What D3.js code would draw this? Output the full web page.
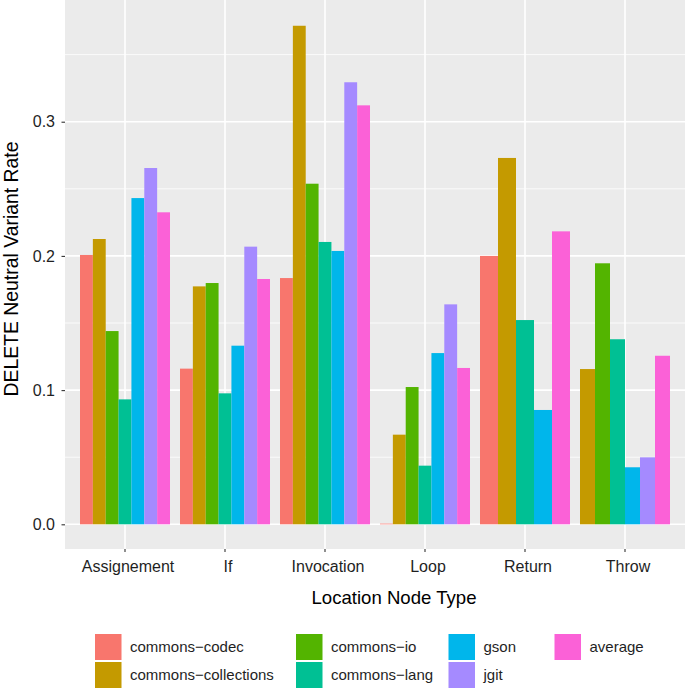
<!DOCTYPE html>
<html>
<head>
<meta charset="utf-8">
<script src="https://cdn.jsdelivr.net/npm/d3@7"></script>
<style>
  html, body { margin: 0; padding: 0; background: #ffffff; }
  svg { display: block; font-family: "Liberation Sans", Arial, Helvetica, sans-serif; }
</style>
</head>
<body>
<svg id="chart" width="685" height="691"></svg>
<script>
// ---- data ----
const categories = ["Assignement", "If", "Invocation", "Loop", "Return", "Throw"];
const seriesNames = ["commons-codec", "commons-collections", "commons-io", "commons-lang", "gson", "jgit", "average"];
const seriesColors = ["#F8766D", "#C49A00", "#53B400", "#00C094", "#00B6EB", "#A58AFF", "#FB61D7"];
const commonsCodec       = [0.2007, 0.1160, 0.1835, 0.0005, 0.2000, null];
const commonsCollections = [0.2126, 0.1773, 0.3715, 0.0668, 0.2730, 0.1157];
const commonsIo          = [0.1440, 0.1798, 0.2538, 0.1023, null,   0.1945];
const commonsLang        = [0.0931, 0.0976, 0.2104, 0.0437, 0.1522, 0.1379];
const gson               = [0.2431, 0.1331, 0.2037, 0.1276, 0.0852, 0.0425];
const jgit               = [0.2655, 0.2069, 0.3294, 0.1639, null,   0.0499];
const average            = [0.2325, 0.1828, 0.3122, 0.1165, 0.2183, 0.1256];
const yTicks = [0.0, 0.1, 0.2, 0.3];
const yMinorTicks = [0.05, 0.15, 0.25, 0.35];
const xTitle = "Location Node Type";
const yTitle = "DELETE Neutral Variant Rate";

const seriesValues = [commonsCodec, commonsCollections, commonsIo, commonsLang, gson, jgit, average];

// ---- layout ----
const svg = d3.select("#chart");
const panel = { left: 65, right: 685, top: 0, bottom: 549 };

const x = d3.scaleBand()
  .domain(categories)
  .range([panel.left, panel.right])
  .paddingInner(0.1)
  .paddingOuter(0.15);

const y = d3.scaleLinear()
  .domain([-0.0184, 0.3907])
  .range([panel.bottom, panel.top]);

const color = d3.scaleOrdinal().domain(seriesNames).range(seriesColors);

// panel background
svg.append("rect")
  .attr("x", panel.left).attr("y", panel.top)
  .attr("width", panel.right - panel.left)
  .attr("height", panel.bottom - panel.top)
  .attr("fill", "#EBEBEB");

// grid lines
const grid = svg.append("g");
grid.selectAll("line.minor")
  .data(yMinorTicks.filter(v => y(v) >= panel.top && y(v) <= panel.bottom))
  .join("line")
  .attr("x1", panel.left).attr("x2", panel.right)
  .attr("y1", d => y(d)).attr("y2", d => y(d))
  .attr("stroke", "#ffffff").attr("stroke-width", 0.8);
grid.selectAll("line.majorY")
  .data(yTicks)
  .join("line")
  .attr("x1", panel.left).attr("x2", panel.right)
  .attr("y1", d => y(d)).attr("y2", d => y(d))
  .attr("stroke", "#ffffff").attr("stroke-width", 1.6);
grid.selectAll("line.majorX")
  .data(categories)
  .join("line")
  .attr("x1", d => x(d) + x.bandwidth() / 2).attr("x2", d => x(d) + x.bandwidth() / 2)
  .attr("y1", panel.top).attr("y2", panel.bottom)
  .attr("stroke", "#ffffff").attr("stroke-width", 1.6);

// bars (dodged, missing series drop out of a group)
const barData = [];
categories.forEach((cat, ci) => {
  const present = seriesNames
    .map((s, si) => ({ series: s, value: seriesValues[si][ci] }))
    .filter(d => d.value !== null);
  const sub = d3.scaleBand()
    .domain(present.map(d => d.series))
    .range([x(cat), x(cat) + x.bandwidth()]);
  present.forEach(d => {
    barData.push({ cat, series: d.series, value: d.value, x: sub(d.series), w: sub.bandwidth() });
  });
});

svg.append("g").selectAll("rect")
  .data(barData)
  .join("rect")
  .attr("x", d => d.x)
  .attr("width", d => d.w)
  .attr("y", d => y(Math.max(0, d.value)))
  .attr("height", d => Math.abs(y(0) - y(d.value)))
  .attr("fill", d => color(d.series));

// y axis
const yAxis = svg.append("g")
  .attr("transform", `translate(${panel.left},0)`)
  .call(d3.axisLeft(y).tickValues(yTicks).tickFormat(d3.format(".1f")).tickSize(3.5).tickPadding(6.5));
yAxis.select(".domain").remove();
yAxis.selectAll(".tick line").attr("stroke", "#333333").attr("stroke-width", 1.1);
yAxis.selectAll(".tick text")
  .attr("fill", "#1f1f1f")
  .style("font-size", "16px")
  .style("font-family", "'Liberation Sans', Arial, sans-serif");

// x axis
const xAxis = svg.append("g")
  .attr("transform", `translate(0,${panel.bottom})`)
  .call(d3.axisBottom(x).tickSize(3).tickPadding(9));
xAxis.select(".domain").remove();
xAxis.selectAll(".tick line").attr("stroke", "#333333").attr("stroke-width", 1.1);
xAxis.selectAll(".tick text")
  .attr("fill", "#1f1f1f")
  .attr("dx", 3)
  .style("font-size", "16px")
  .style("font-family", "'Liberation Sans', Arial, sans-serif");

// axis titles
svg.append("text")
  .attr("x", 394).attr("y", 604)
  .attr("text-anchor", "middle")
  .attr("fill", "#000")
  .style("font-size", "18.6px")
  .text(xTitle);

svg.append("text")
  .attr("transform", "translate(18,269) rotate(-90)")
  .attr("text-anchor", "middle")
  .attr("fill", "#000")
  .style("font-size", "19.4px")
  .text(yTitle);

// legend (4 columns, 2 rows, filled column-wise)
const legendCols = [95, 296, 448.5, 554.5];
const legendRows = [634, 662];
const keyW = 26.5, keyH = 26;
const legend = svg.append("g");
seriesNames.forEach((s, i) => {
  const col = Math.floor(i / 2), row = i % 2;
  const gx = legendCols[col], gy = legendRows[row];
  legend.append("rect")
    .attr("x", gx).attr("y", gy)
    .attr("width", keyW).attr("height", keyH)
    .attr("fill", color(s));
  legend.append("text")
    .attr("x", gx + keyW + 8.5)
    .attr("y", gy + keyH / 2)
    .attr("dy", "0.35em")
    .attr("fill", "#1f1f1f")
    .style("font-size", "15px")
    .text(s.replace(/-/g, "\u2212"));
});
</script>
</body>
</html>
